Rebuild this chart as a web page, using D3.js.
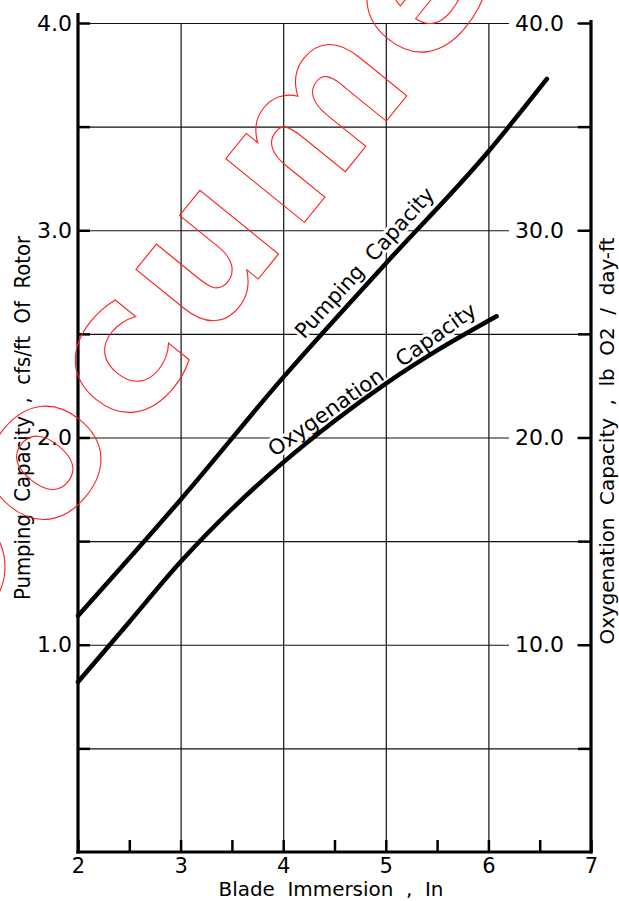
<!DOCTYPE html>
<html><head><meta charset="utf-8">
<script src="https://cdn.jsdelivr.net/npm/d3@7"></script>
<style>html,body{margin:0;padding:0;background:#fff;overflow:hidden}</style>
</head><body><svg id="c" width="619" height="901"></svg>
<script>
// ---- data ----
const xTickValues = [2, 2.5, 3, 3.5, 4, 4.5, 5, 5.5, 6, 6.5, 7];
const xGridValues = [3, 4, 5, 6];
const yLeftValues = [0.5, 1, 1.5, 2, 2.5, 3, 3.5, 4];
const yRightValues = [5, 10, 15, 20, 25, 30, 35, 40];
const pumpX = [2, 3, 4, 5, 6, 6.57];
const pumpY = [1.14, 1.70, 2.29, 2.84, 3.38, 3.73];
const oxyX = [2, 2.5, 3, 3.5, 4, 4.5, 5, 5.5, 6.08];
const oxyY = [0.82, 1.11, 1.40, 1.655, 1.88, 2.08, 2.26, 2.42, 2.585];
const xTitle = "Blade  Immersion  ,  In";
const yLeftTitle = "Pumping  Capacity  ,  cfs/ft  Of  Rotor";
const yRightTitle = "Oxygenation  Capacity  ,  lb  O2  /  day-ft";
const pumpLabel = "Pumping  Capacity";
const oxyLabel = "Oxygenation   Capacity";

// ---- setup ----
const FONT = "'DejaVu Sans', sans-serif";
const svg = d3.select('#c');
const x = d3.scaleLinear().domain([2, 7]).range([78, 591]);
const y = d3.scaleLinear().domain([0, 4]).range([852, 23]);
const yR = d3.scaleLinear().domain([0, 40]).range([852, 23]);

// ---- grid ----
const gH = svg.append('g').attr('transform', `translate(${x(2)},0)`)
  .call(d3.axisLeft(y).tickValues(yLeftValues).tickSize(-(x(7) - x(2))).tickFormat(''));
gH.select('.domain').remove();
gH.selectAll('line').attr('stroke', '#111').attr('stroke-width', 1.2);
const gV = svg.append('g').attr('transform', `translate(0,${y(0)})`)
  .call(d3.axisBottom(x).tickValues(xGridValues).tickSize(-(y(0) - y(4))).tickFormat(''));
gV.select('.domain').remove();
gV.selectAll('line').attr('stroke', '#111').attr('stroke-width', 1.2);

// ---- curve labels (with white halo) ----
const pumpData = pumpX.map((d, i) => [d, pumpY[i]]);
const oxyData = oxyX.map((d, i) => [d, oxyY[i]]);
function interp(data, xv) {
  for (let i = 0; i < data.length - 1; i++) {
    if (xv >= data[i][0] && xv <= data[i + 1][0]) {
      const t = (xv - data[i][0]) / (data[i + 1][0] - data[i][0]);
      return data[i][1] + t * (data[i + 1][1] - data[i][1]);
    }
  }
  return data[data.length - 1][1];
}
function addLabel(data, text, xa, x0, x1, off, len) {
  const px = x(xa), py = y(interp(data, xa));
  const ang = Math.atan2(y(interp(data, x1)) - y(interp(data, x0)), x(x1) - x(x0)) * 180 / Math.PI;
  svg.append('text')
    .attr('transform', `translate(${px},${py}) rotate(${ang})`)
    .attr('y', -off)
    .attr('text-anchor', 'middle')
    .attr('font-family', FONT).attr('font-size', 21)
    .attr('textLength', len).attr('lengthAdjust', 'spacingAndGlyphs')
    .style('white-space', 'pre')
    .attr('fill', '#000').attr('stroke', '#fff').attr('stroke-width', 6)
    .attr('paint-order', 'stroke')
    .text(text);
}
addLabel(pumpData, pumpLabel, 4.91, 4, 6, 9, 195);
addLabel(oxyData, oxyLabel, 4.93, 3.9, 5.9, 4, 249);

// ---- curves ----
const line = d3.line().x(d => x(d[0])).y(d => y(d[1])).curve(d3.curveMonotoneX);
[pumpData, oxyData].forEach(dd => {
  svg.append('path').attr('d', line(dd)).attr('fill', 'none')
    .attr('stroke', '#000').attr('stroke-width', 4.5).attr('stroke-linecap', 'round');
});

// ---- left axis ----
const aL = svg.append('g').attr('transform', `translate(${x(2)},0)`)
  .call(d3.axisLeft(y).tickValues(yLeftValues).tickSize(-12).tickPadding(6)
    .tickFormat(d => Number.isInteger(d) ? d3.format('.1f')(d) : ''));
aL.select('.domain').remove();
aL.selectAll('line').attr('stroke', '#000').attr('stroke-width', 2.5);
aL.selectAll('text').attr('font-family', FONT).attr('font-size', 22).attr('fill', '#000');

// ---- right axis ----
const aR = svg.append('g').attr('transform', `translate(${x(7)},0)`)
  .call(d3.axisLeft(yR).tickValues(yRightValues).tickSize(13).tickPadding(14)
    .tickFormat(d => d % 10 === 0 ? d3.format('.1f')(d) : ''));
aR.select('.domain').remove();
aR.selectAll('.tick').filter(d => d % 10 === 0)
  .insert('rect', ':first-child')
  .attr('x', -82).attr('y', -9).attr('width', 68).attr('height', 18).attr('fill', '#fff');
aR.selectAll('line').attr('stroke', '#000').attr('stroke-width', 2.5);
aR.selectAll('text').attr('font-family', FONT).attr('font-size', 22).attr('fill', '#000');

// ---- bottom axis ----
const aB = svg.append('g').attr('transform', `translate(0,${y(0)})`)
  .call(d3.axisBottom(x).tickValues(xTickValues).tickSize(-12).tickPadding(6)
    .tickFormat(d => Number.isInteger(d) ? d : ''));
aB.select('.domain').remove();
aB.selectAll('line').attr('stroke', '#000').attr('stroke-width', 2.5);
aB.selectAll('text').attr('font-family', FONT).attr('font-size', 21).attr('fill', '#000');

// ---- frame lines ----
const frame = [
  [x(2), y(4) - 10, x(2), y(0) + 1.5],
  [x(7), y(4) - 3, x(7), y(0) + 1.5],
  [x(2) - 1.5, y(0), x(7) + 1.5, y(0)]
];
svg.append('g').selectAll('line').data(frame).join('line')
  .attr('x1', d => d[0]).attr('y1', d => d[1]).attr('x2', d => d[2]).attr('y2', d => d[3])
  .attr('stroke', '#000').attr('stroke-width', 3.2);

// ---- titles ----
svg.append('text').attr('x', 331).attr('y', 896).attr('text-anchor', 'middle')
  .attr('font-family', FONT).attr('font-size', 19).attr('textLength', 225)
  .attr('lengthAdjust', 'spacingAndGlyphs').style('white-space', 'pre').text(xTitle);
svg.append('text').attr('transform', 'translate(30,418) rotate(-90)').attr('text-anchor', 'middle')
  .attr('font-family', FONT).attr('font-size', 21).attr('textLength', 364)
  .attr('lengthAdjust', 'spacingAndGlyphs').style('white-space', 'pre').text(yLeftTitle);
svg.append('text').attr('transform', 'translate(614,441) rotate(-90)').attr('text-anchor', 'middle')
  .attr('font-family', FONT).attr('font-size', 20).attr('textLength', 407)
  .attr('lengthAdjust', 'spacingAndGlyphs').style('white-space', 'pre').text(yRightTitle);

// ---- watermark ----
svg.append('text').attr('transform', 'translate(-59,671) rotate(-51)')
  .attr('font-family', FONT).attr('font-weight', 'bold').attr('font-size', 185)
  .attr('letter-spacing', 10)
  .attr('fill', 'none').attr('stroke', '#ff2020').attr('stroke-width', 1.1)
  .text('Document');
</script>
</body></html>
